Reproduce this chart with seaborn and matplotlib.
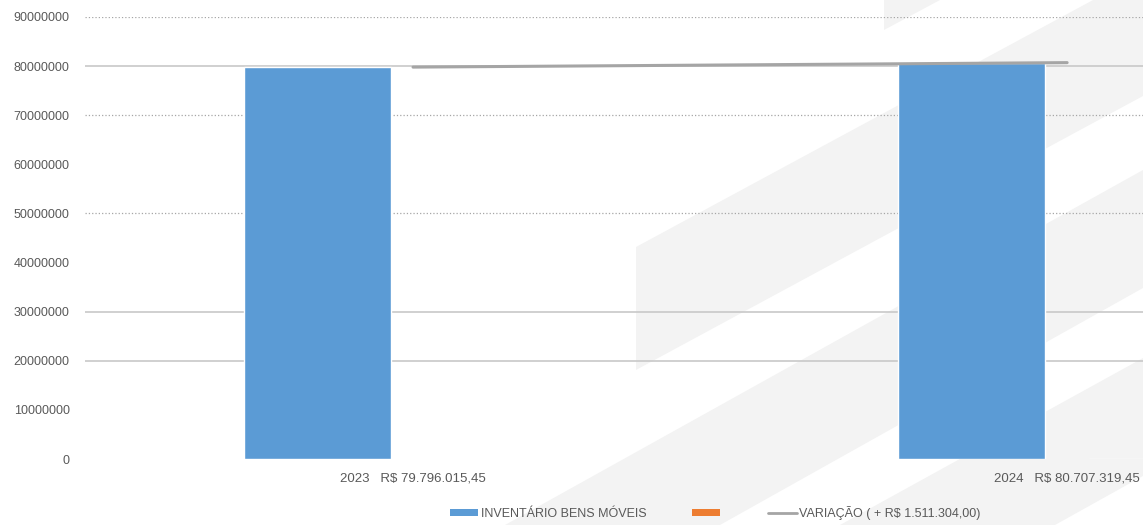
import pandas as pd
import numpy as np
import matplotlib
matplotlib.use("Agg")
import matplotlib.pyplot as plt
from matplotlib.patches import Polygon, Patch
from matplotlib.lines import Line2D
import seaborn as sns

# chart data
anos = ["2023", "2024"]
valores_txt = ["R$ 79.796.015,45", "R$ 80.707.319,45"]
inventario = [79796015.45, 80707319.45]
serie_vazia = [0.0, 0.0]  # orange series, no values shown
serie_nomes = ["INVENTÁRIO BENS MÓVEIS", ""]
variacao_label = "VARIAÇÃO ( + R$ 1.511.304,00)"
y_ticks = list(range(0, 90000001, 10000000))

AZUL = "#5b9bd5"
LARANJA = "#ed7d31"
CINZA = "#a5a5a5"
TXT = "#595959"

sns.set_style("white")
plt.rcParams["font.family"] = ["Liberation Sans", "DejaVu Sans"]

W, H = 1143, 525
fig = plt.figure(figsize=(W / 100, H / 100), dpi=100)
fig.patch.set_facecolor("white")

# light watermark stripes in the background (pixel coords, y from top)
faixas = [
    [(884, 0), (884, 30), (940, 0)],
    [(636, 247), (1143, -27), (1143, 96), (636, 370)],
    [(505, 525), (1143, 170), (1143, 288), (720, 525)],
    [(840, 525), (1143, 358), (1143, 476), (1055, 525)],
]
for f in faixas:
    pts = [(x / W, 1 - y / H) for x, y in f]
    fig.add_artist(Polygon(pts, closed=True, transform=fig.transFigure,
                           facecolor="#f3f3f3", edgecolor="none", zorder=-5))

ax = fig.add_axes([85 / W, (H - 459) / H, (W - 85) / W, (459 - 17) / H])
ax.set_facecolor("none")

df = pd.DataFrame({
    "Ano": anos + anos,
    "Valor": inventario + serie_vazia,
    "Serie": [serie_nomes[0]] * len(anos) + ["vazio"] * len(anos),
})
sns.barplot(data=df, x="Ano", y="Valor", hue="Serie", order=anos,
            hue_order=[serie_nomes[0], "vazio"],
            palette=[AZUL, LARANJA], width=0.585, gap=0.23,
            saturation=1, legend=False, ax=ax, zorder=3)

sns.lineplot(x=np.arange(len(anos)), y=inventario, color=CINZA, lw=2.2,
             ax=ax, zorder=4)

# gridlines (mixed styles as in the original)
estilos = {90000000: ":", 80000000: "-", 70000000: ":", 50000000: ":",
           30000000: "-", 20000000: "-"}
for val, ls in estilos.items():
    ax.axhline(val, color="#c8c8c8" if ls == "-" else "#a6a6a6",
               lw=1.2 if ls == "-" else 0.9, ls=ls, zorder=1)

ax.set_ylim(0, 90000000)
ax.set_xlim(-0.5015, 1.116)
ax.set_yticks(y_ticks)
ax.set_yticklabels([str(v) for v in y_ticks], fontsize=9, color=TXT)
ax.set_xticks(range(len(anos)))
ax.set_xticklabels([f"{a}   {v}" for a, v in zip(anos, valores_txt)],
                   fontsize=9.5, color=TXT)
ax.tick_params(axis="y", length=0, pad=11)
ax.tick_params(axis="x", length=0, pad=10)
ax.set_xlabel("")
ax.set_ylabel("")
sns.despine(ax=ax, left=True, bottom=True)

handles = [
    Patch(facecolor=AZUL, edgecolor="none"),
    Patch(facecolor=LARANJA, edgecolor="none"),
    Line2D([0], [0], color=CINZA, lw=2),
]
leg = fig.legend(handles, [serie_nomes[0], serie_nomes[1], variacao_label],
                 loc="center", bbox_to_anchor=(715 / W, 1 - 513 / H),
                 ncol=3, frameon=False, fontsize=9, handlelength=2.3,
                 handleheight=0.45, handletextpad=0.2, columnspacing=3.6)
for t in leg.get_texts():
    t.set_color(TXT)

fig.savefig("out.png", dpi=100, facecolor="white")
